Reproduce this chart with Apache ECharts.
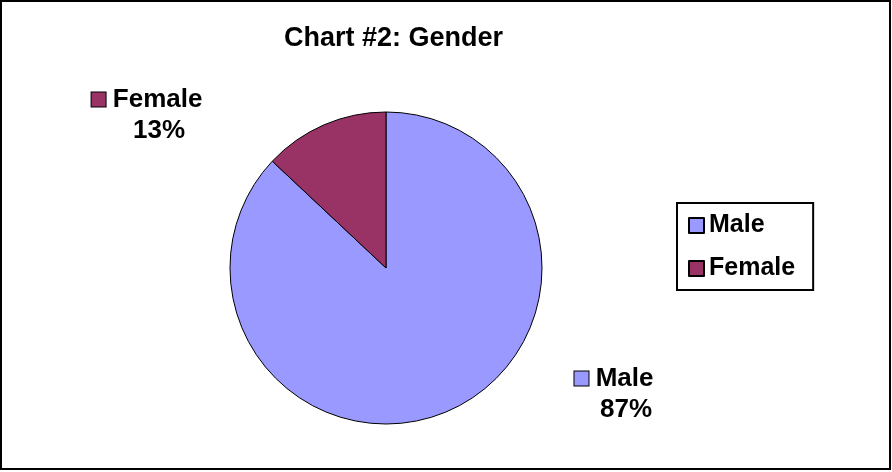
<!DOCTYPE html>
<html>
<head>
<meta charset="utf-8">
<script src="https://cdn.jsdelivr.net/npm/echarts@6/dist/echarts.min.js"></script>
<style>
  html, body { margin: 0; padding: 0; background: #fff; }
  #chart { width: 892px; height: 472px; }
</style>
</head>
<body>
<div id="chart"></div>
<script>
// 数据
var categories = ['Male', 'Female'];
var values = [87, 13];
var colors = ['#9999FF', '#993366'];

var font = 'Liberation Sans, Arial, sans-serif';

var myChart = echarts.init(document.getElementById('chart'));

var pieData = categories.map(function (name, i) {
  return {
    name: name,
    value: values[i],
    itemStyle: { color: colors[i] },
    label: {
      rich: {
        sq: {
          width: 14, height: 14,
          backgroundColor: colors[i],
          borderColor: '#000', borderWidth: 1
        }
      }
    }
  };
});

myChart.setOption({
  animation: false,
  title: {
    text: 'Chart #2: Gender',
    left: 284,
    top: 25,
    padding: 0,
    textStyle: { fontFamily: font, fontSize: 27, fontWeight: 'bold', color: '#000' }
  },
  graphic: [{
    type: 'rect',
    shape: { x: 1, y: 1, width: 889, height: 468 },
    style: { fill: 'none', stroke: '#000', lineWidth: 2 },
    silent: true
  }],
  legend: {
    orient: 'vertical',
    left: 677,
    top: 203,
    data: categories,
    icon: 'rect',
    itemWidth: 15,
    itemHeight: 15,
    itemGap: 18,
    padding: [10, 18, 9, 11],
    borderColor: '#000',
    borderWidth: 2,
    textStyle: { fontFamily: font, fontSize: 25, fontWeight: 'bold', color: '#000' }
  },
  series: [{
    type: 'pie',
    center: [386, 268],
    radius: [0, 156],
    startAngle: 90,
    clockwise: true,
    itemStyle: { borderColor: '#000', borderWidth: 1 },
    emphasis: { disabled: true },
    labelLine: { show: false },
    label: {
      show: true,
      formatter: '{sq|}{t| {b}}\n{p|{d}%}',
      rich: {
        t: { fontFamily: font, fontSize: 26, fontWeight: 'bold', color: '#000', lineHeight: 31 },
        p: { fontFamily: font, fontSize: 26, fontWeight: 'bold', color: '#000', lineHeight: 31, padding: [0, 0, 0, 24] }
      }
    },
    labelLayout: function (params) {
      if (params.dataIndex === 1) {
        return { x: 147, y: 115, align: 'center', verticalAlign: 'middle' };
      }
      return { x: 614, y: 394, align: 'center', verticalAlign: 'middle' };
    },
    data: pieData
  }]
});
</script>
</body>
</html>
